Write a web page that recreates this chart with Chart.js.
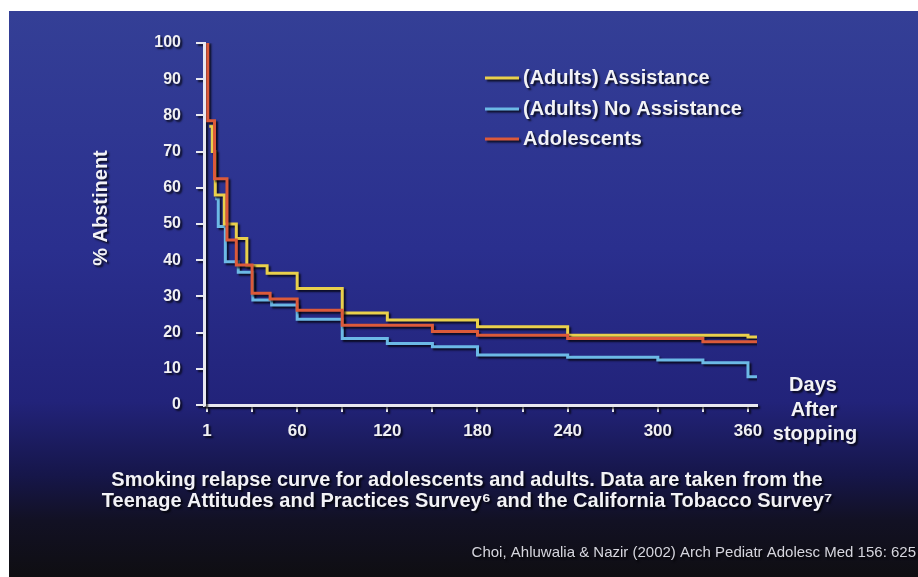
<!DOCTYPE html>
<html>
<head>
<meta charset="utf-8">
<script src="https://cdn.jsdelivr.net/npm/chart.js@4.4.1/dist/chart.umd.min.js"></script>
<style>
  body { margin: 0; background: #fff; }
  canvas { display: block; }
</style>
</head>
<body>
<canvas id="relapse" width="918" height="577"></canvas>
<script>
// days after stopping / % abstinent (step starts at that day)
var assistDays = [1.5, 3.5, 5.5, 11.5, 19.5, 26.5, 40, 60, 90, 120, 180, 240, 360, 366];
var assistPct  = [77, 70, 58, 50, 46, 38.5, 36.4, 32.2, 25.4, 23.5, 21.6, 19.3, 18.8, 18.8];

var noAssistDays = [5.5, 7.5, 12.2, 20.8, 30.5, 43, 60, 90, 120, 150, 180, 240, 300, 330, 360, 366];
var noAssistPct  = [57, 49.3, 39.6, 36.7, 29, 27.6, 23.7, 18.4, 17, 16.1, 13.8, 13.2, 12.4, 11.7, 7.8, 7.8];

var teenDays = [0, 0.5, 5, 13.3, 19.5, 30, 42, 60, 90, 150, 180, 240, 330, 366];
var teenPct  = [100, 78.5, 62.5, 45.6, 38.7, 30.9, 29.3, 26.2, 22, 20.3, 19.3, 18.4, 17.5, 17.5];

var seriesNames = ['(Adults) Assistance', '(Adults) No Assistance', 'Adolescents'];
var seriesColors = ['#e9d04c', '#6cb9e6', '#dc5a3a'];

var xTicks = [0, 30, 60, 90, 120, 150, 180, 210, 240, 270, 300, 330, 360];
var xTickText = ['1', '', '60', '', '120', '', '180', '', '240', '', '300', '', '360'];

function toPoints(days, pct) {
    var pts = [];
    for (var i = 0; i < days.length; i++) {
        pts.push({ x: days[i], y: pct[i] });
    }
    return pts;
}

function setShadow(ctx) {
    ctx.shadowColor = 'rgba(0, 0, 0, 0.75)';
    ctx.shadowOffsetX = 2;
    ctx.shadowOffsetY = 2;
    ctx.shadowBlur = 2;
}

var axisColor = '#e8e8f0';
var fontFamily = '"Liberation Sans", Arial, sans-serif';

var slidePlugin = {
    id: 'slide',
    beforeDraw: function (chart) {
        var ctx = chart.ctx;
        ctx.save();
        ctx.fillStyle = '#ffffff';
        ctx.fillRect(0, 0, chart.width, chart.height);
        var g = ctx.createLinearGradient(0, 11, 0, 577);
        g.addColorStop(0, '#343f96');
        g.addColorStop(0.42, '#2a2f8e');
        g.addColorStop(0.69, '#22237a');
        g.addColorStop(0.82, '#16164a');
        g.addColorStop(0.9, '#121124');
        g.addColorStop(1, '#0f0e12');
        ctx.fillStyle = g;
        ctx.fillRect(9, 11, chart.width - 9, chart.height - 11);
        ctx.restore();
        // drop shadow for axes and curves
        setShadow(ctx);
    },
    afterDraw: function (chart) {
        var ctx = chart.ctx;
        ctx.save();
        setShadow(ctx);
        ctx.textBaseline = 'middle';

        // legend
        var rows = [78, 109, 139];
        ctx.font = 'bold 20px ' + fontFamily;
        ctx.textAlign = 'left';
        for (var i = 0; i < seriesNames.length; i++) {
            ctx.strokeStyle = seriesColors[i];
            ctx.lineWidth = 3;
            ctx.beginPath();
            ctx.moveTo(485, rows[i]);
            ctx.lineTo(519, rows[i]);
            ctx.stroke();
            ctx.fillStyle = '#f2f2f6';
            ctx.fillText(seriesNames[i], 523, rows[i]);
        }

        // y title
        ctx.save();
        ctx.translate(101, 208);
        ctx.rotate(-Math.PI / 2);
        ctx.textAlign = 'center';
        ctx.font = 'bold 20px ' + fontFamily;
        ctx.fillText('% Abstinent', 0, 0);
        ctx.restore();

        // x title
        ctx.textAlign = 'center';
        ctx.font = 'bold 20px ' + fontFamily;
        ctx.fillText('Days', 813, 385);
        ctx.fillText('After', 814, 410);
        ctx.fillText('stopping', 815, 434);

        // caption
        ctx.font = 'bold 20px ' + fontFamily;
        ctx.fillText('Smoking relapse curve for adolescents and adults. Data are taken from the', 467, 480);
        ctx.fillText('Teenage Attitudes and Practices Survey\u2076 and the California Tobacco Survey\u2077', 467, 501);

        // source
        ctx.textAlign = 'right';
        ctx.font = '15px ' + fontFamily;
        ctx.fillStyle = '#d6d6de';
        ctx.fillText('Choi, Ahluwalia & Nazir (2002) Arch Pediatr Adolesc Med 156: 625', 916, 553);
        ctx.restore();
    }
};

var ctx = document.getElementById('relapse');

var data = {
    datasets: [{
        label: seriesNames[2],
        data: toPoints(teenDays, teenPct),
        borderColor: seriesColors[2],
        order: 0
    }, {
        label: seriesNames[0],
        data: toPoints(assistDays, assistPct),
        borderColor: seriesColors[0],
        order: 1
    }, {
        label: seriesNames[1],
        data: toPoints(noAssistDays, noAssistPct),
        borderColor: seriesColors[1],
        order: 2
    }]
};

var option = {
    responsive: false,
    animation: false,
    layout: {
        padding: { left: 0, top: 43, right: 161, bottom: 0 }
    },
    elements: {
        line: { borderWidth: 3, stepped: true, tension: 0, fill: false },
        point: { radius: 0 }
    },
    plugins: {
        legend: { display: false },
        tooltip: { enabled: false }
    },
    scales: {
        x: {
            type: 'linear',
            min: -2,
            max: 366,
            afterFit: function (scale) { scale.height = 172; },
            afterBuildTicks: function (scale) {
                scale.ticks = xTicks.map(function (v) { return { value: v }; });
            },
            ticks: {
                autoSkip: false,
                maxRotation: 0,
                padding: 9,
                color: '#f0f0f4',
                font: { family: fontFamily, size: 17, weight: 'bold' },
                callback: function (value, index) { return xTickText[index]; }
            },
            grid: {
                drawOnChartArea: false,
                tickLength: 7,
                color: axisColor,
                lineWidth: 2
            },
            border: { color: axisColor, width: 3 }
        },
        y: {
            min: 0,
            max: 100,
            afterFit: function (scale) { scale.width = 204; },
            ticks: {
                stepSize: 10,
                padding: 15,
                color: '#f0f0f4',
                font: { family: fontFamily, size: 16, weight: 'bold' }
            },
            grid: {
                drawOnChartArea: false,
                tickLength: 8,
                color: axisColor,
                lineWidth: 2
            },
            border: { color: axisColor, width: 3 }
        }
    }
};

var myChart = new Chart(ctx, {
    type: 'line',
    data: data,
    options: option,
    plugins: [slidePlugin]
});
</script>
</body>
</html>
